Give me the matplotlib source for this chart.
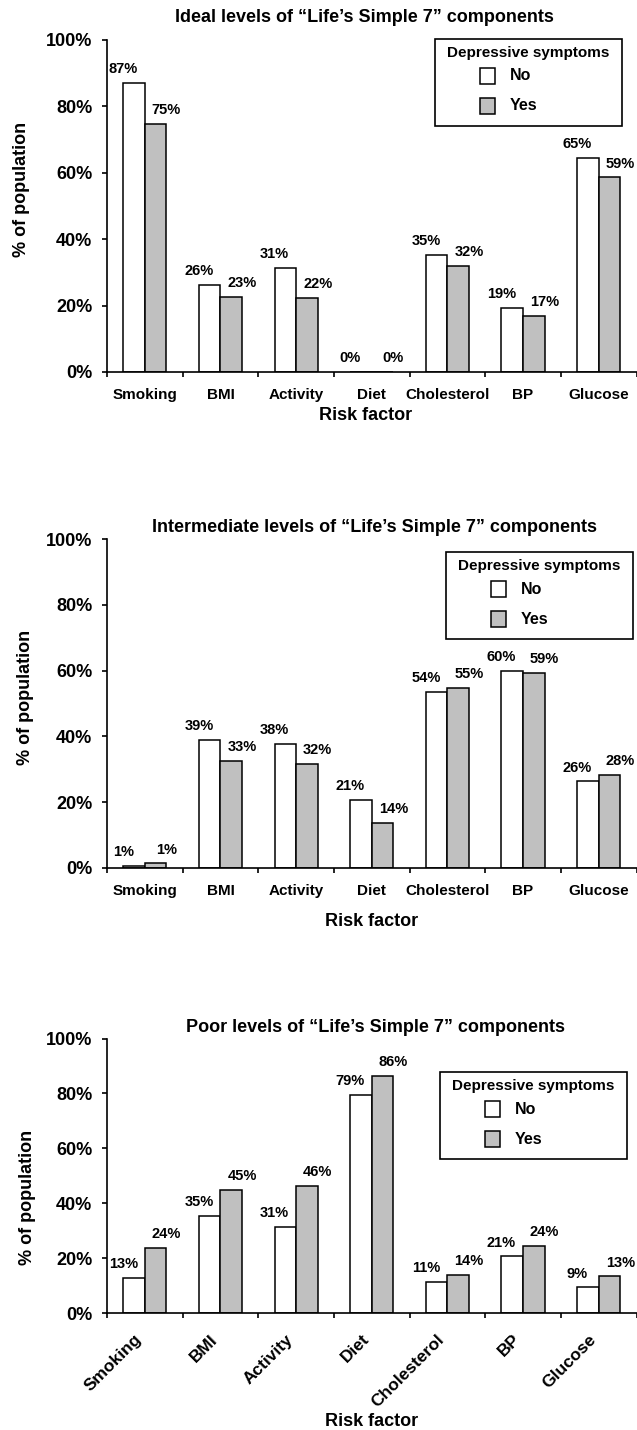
import numpy as np
import matplotlib
matplotlib.use("Agg")
import matplotlib.pyplot as plt
from matplotlib.patches import Rectangle

plt.rcParams['font.family'] = ['Liberation Sans', 'DejaVu Sans']
plt.rcParams['font.weight'] = 'bold'

categories = ["Smoking", "BMI", "Activity", "Diet", "Cholesterol", "BP", "Glucose"]

ideal_no = [87.0, 26.1, 31.4, 0.0, 35.2, 19.4, 64.6]
ideal_yes = [74.6, 22.7, 22.2, 0.0, 31.9, 16.8, 58.6]

inter_no = [0.6, 38.8, 37.8, 20.7, 53.6, 60.0, 26.3]
inter_yes = [1.4, 32.6, 31.6, 13.8, 54.8, 59.3, 28.4]

poor_no = [12.7, 35.4, 31.3, 79.3, 11.2, 20.6, 9.3]
poor_yes = [23.8, 44.8, 46.3, 86.4, 13.8, 24.4, 13.3]

titles = ['Ideal levels of \u201cLife\u2019s Simple 7\u201d components',
          'Intermediate levels of \u201cLife\u2019s Simple 7\u201d components',
          'Poor levels of \u201cLife\u2019s Simple 7\u201d components']
yticks = [0, 20, 40, 60, 80, 100]
ytick_labels = ["0%", "20%", "40%", "60%", "80%", "100%"]
legend_title = "Depressive symptoms"
legend_labels = ["No", "Yes"]

W, H = 637, 1430
fig = plt.figure(figsize=(W / 100, H / 100), dpi=100)

def fx(px):
    return px / W

def fy(py):
    return 1 - py / H

def px_axes(left, top, right, bottom):
    return fig.add_axes([left / W, 1 - bottom / H, (right - left) / W, (bottom - top) / H])

GRAY = '#c0c0c0'
bw = 0.285

panels = [
    dict(no=ideal_no, yes=ideal_yes, top=40, bottom=372, title_xy=(364, 18),
         ylab_xy=(22, 189), xlab_xy=(366, 415), rot=False, leg=(435, 39)),
    dict(no=inter_no, yes=inter_yes, top=539, bottom=868, title_xy=(375, 528),
         ylab_xy=(26, 697), xlab_xy=(372, 922), rot=False, leg=(446, 552)),
    dict(no=poor_no, yes=poor_yes, top=1038.5, bottom=1313, title_xy=(376, 1027),
         ylab_xy=(28, 1197), xlab_xy=(372, 1422), rot=True, leg=(440, 1072)),
]


def draw_legend(left, top):
    bwid, bhgt = 187, 87
    fig.add_artist(Rectangle((fx(left), fy(top + bhgt)), bwid / W, bhgt / H,
                             transform=fig.transFigure, facecolor='white',
                             edgecolor='black', linewidth=1.2, zorder=5))
    fig.text(fx(left + 93), fy(top + 14), legend_title, ha='center', va='center',
             fontsize=11, fontweight='bold', zorder=6)
    for j, (lab, col) in enumerate(zip(legend_labels, ['white', GRAY])):
        cy = top + 37 + 30 * j
        fig.add_artist(Rectangle((fx(left + 45), fy(cy + 8)), 15 / W, 16 / H,
                                 transform=fig.transFigure, facecolor=col,
                                 edgecolor='black', linewidth=1.1, zorder=6))
        fig.text(fx(left + 75), fy(cy), lab, ha='left', va='center',
                 fontsize=11.5, fontweight='bold', zorder=6)


x = np.arange(len(categories))
for k, p in enumerate(panels):
    ax = px_axes(107, p['top'], 636.5, p['bottom'])
    ax.bar(x - bw / 2, p['no'], width=bw, color='white', edgecolor='black', linewidth=1.1)
    ax.bar(x + bw / 2, p['yes'], width=bw, color=GRAY, edgecolor='black', linewidth=1.1)
    for i, (vn, vy) in enumerate(zip(p['no'], p['yes'])):
        ax.annotate(f"{vn:.0f}%", (x[i] - bw, vn), xytext=(0, 10), textcoords='offset points',
                    ha='center', va='center', fontsize=10.5, fontweight='bold')
        ax.annotate(f"{vy:.0f}%", (x[i] + bw, vy), xytext=(0, 10), textcoords='offset points',
                    ha='center', va='center', fontsize=10.5, fontweight='bold')
    ax.set_xlim(-0.5, len(categories) - 0.5)
    ax.set_ylim(0, 100)
    for s in ['top', 'right']:
        ax.spines[s].set_visible(False)
    for s in ['left', 'bottom']:
        ax.spines[s].set_linewidth(1.2)
    ax.set_yticks(yticks)
    ax.set_yticklabels(ytick_labels, fontsize=13, fontweight='bold')
    ax.tick_params(axis='y', length=3.6, width=1.2, pad=7)
    ax.set_xticks(np.arange(-0.5, len(categories), 1))
    ax.set_xticklabels([])
    ax.tick_params(axis='x', which='major', length=3.6, width=1.2)
    ax.set_xticks(x, minor=True)
    if p['rot']:
        ax.set_xticklabels(categories, minor=True, rotation=45, ha='right', va='top',
                           fontsize=12.5, fontweight='bold')
        ax.tick_params(axis='x', which='minor', length=0, pad=13.5)
    else:
        ax.set_xticklabels(categories, minor=True, fontsize=11, fontweight='bold')
        ax.tick_params(axis='x', which='minor', length=0, pad=11.5)
    for t in ax.get_xticklines():
        t.set_clip_on(False)
    draw_legend(*p['leg'])
    tx, ty = p['title_xy']
    fig.text(fx(tx), fy(ty), titles[k], ha='center', va='center',
             fontsize=13, fontweight='bold')
    lx, ly = p['ylab_xy']
    fig.text(fx(lx), fy(ly), '% of population', rotation=90, ha='center', va='center',
             fontsize=13, fontweight='bold')
    xx, xy = p['xlab_xy']
    fig.text(fx(xx), fy(xy), 'Risk factor', ha='center', va='center',
             fontsize=13, fontweight='bold')

fig.savefig('out.png', dpi=100)
